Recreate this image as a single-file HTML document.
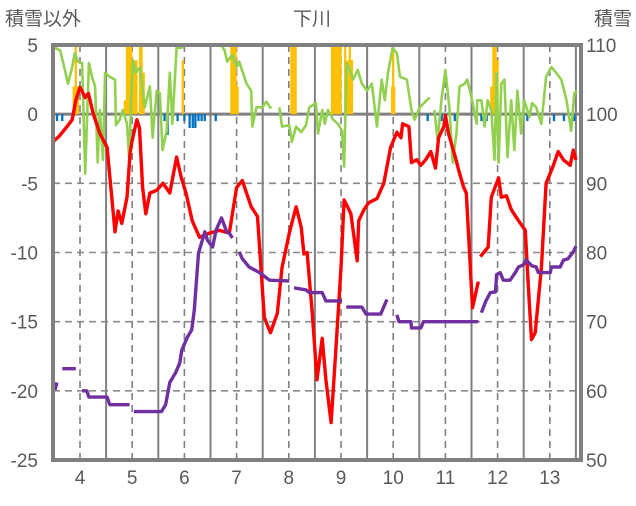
<!DOCTYPE html>
<html><head><meta charset="utf-8"><style>
html,body{margin:0;padding:0;background:#fff;}
svg text{font-family:"Liberation Sans","Noto Sans CJK JP",sans-serif;fill:#595959;}
</style></head><body>
<svg id="chart" width="636" height="501" viewBox="0 0 636 501" xmlns="http://www.w3.org/2000/svg">
<defs><clipPath id="plotclip"><rect x="53" y="45" width="528" height="415"/></clipPath></defs>
<text x="312" y="25" font-size="19" text-anchor="middle">下川</text>
<text x="5" y="25" font-size="19">積雪以外</text>
<text x="632" y="25" font-size="19" text-anchor="end">積雪</text>
<g id="grid"></g>
<g id="axes"></g>
<g clip-path="url(#plotclip)"><g id="marks"></g></g>
<rect x="53" y="45" width="528" height="415" fill="none" stroke="#808080" stroke-width="4"/>
</svg>
<script>
const leftTicks=[5,0,-5,-10,-15,-20,-25];
const rightTicks=[110,100,90,80,70,60,50];
const dayTicks=[4,5,6,7,8,9,10,11,12,13];
const redSeries=[[3.48,-2.0],[3.6,-1.6],[3.75,-0.9],[3.85,-0.4],[3.92,1.0],[4.0,1.95],[4.1,1.2],[4.16,1.5],[4.25,0.1],[4.38,-1.4],[4.52,-2.4],[4.67,-8.5],[4.73,-7.0],[4.8,-7.9],[4.9,-6.0],[4.96,-2.8],[5.0,-1.9],[5.09,-0.4],[5.14,-1.0],[5.2,-5.3],[5.26,-7.2],[5.34,-5.7],[5.47,-5.5],[5.59,-5.0],[5.72,-5.7],[5.85,-3.1],[5.94,-4.6],[6.03,-5.7],[6.15,-7.7],[6.29,-8.9],[6.48,-8.6],[6.67,-8.4],[6.86,-8.6],[7.0,-5.3],[7.11,-4.8],[7.28,-6.7],[7.4,-7.4],[7.53,-14.7],[7.65,-15.8],[7.78,-14.4],[7.87,-11.1],[8.01,-8.6],[8.14,-6.7],[8.24,-8.2],[8.29,-10.1],[8.35,-10.0],[8.45,-14.4],[8.54,-19.2],[8.64,-16.2],[8.71,-19.2],[8.81,-22.3],[8.9,-17.1],[9.0,-11.1],[9.06,-6.2],[9.19,-7.2],[9.31,-10.6],[9.34,-7.7],[9.44,-6.9],[9.53,-6.4],[9.69,-6.1],[9.82,-5.0],[9.95,-2.4],[10.07,-1.3],[10.15,-1.7],[10.18,-0.7],[10.3,-0.9],[10.35,-3.5],[10.45,-3.3],[10.53,-3.7],[10.62,-3.3],[10.72,-2.7],[10.81,-3.9],[10.87,-1.7],[10.97,-0.9],[11.0,-0.1],[11.06,-1.4],[11.19,-3.1],[11.25,-4.0],[11.35,-5.3],[11.4,-5.7],[11.52,-14.0],[11.63,-12.1],null,[11.67,-10.3],[11.82,-9.6],[11.88,-6.0],[12.02,-4.6],[12.07,-6.0],[12.17,-5.9],[12.26,-6.9],[12.4,-7.7],[12.53,-8.4],[12.59,-12.5],[12.65,-16.3],[12.72,-15.8],[12.84,-11.1],[12.93,-5.0],[13.06,-3.8],[13.16,-2.7],[13.26,-3.3],[13.39,-3.7],[13.45,-2.6],[13.5,-3.3]];
const purpleSeries=[[3.52,60.1],[3.56,61.2],null,[3.66,63.2],[3.92,63.2],null,[4.04,60.0],[4.13,60.0],[4.17,59.1],[4.52,59.1],[4.57,58.0],[4.95,58.0],null,[5.03,57.0],[5.56,57.0],[5.64,58.0],[5.72,61.2],[5.83,62.6],[5.91,64.0],[5.95,65.9],[6.06,67.8],[6.14,68.8],[6.19,71.7],[6.27,79.9],[6.39,83.0],[6.44,81.8],[6.54,80.8],[6.61,83.3],[6.71,85.0],[6.81,83.0],[6.86,82.8],[6.92,82.1],null,[7.05,80.1],[7.11,79.1],[7.24,77.9],[7.44,77.1],[7.63,76.0],[8.01,75.9],null,[8.1,74.9],[8.33,74.6],[8.39,74.2],[8.64,74.2],[8.71,73.0],[9.02,73.0],null,[9.1,72.1],[9.4,72.1],[9.48,71.1],[9.76,71.1],[9.88,73.2],null,[10.07,71.0],[10.11,70.0],[10.34,70.0],[10.35,69.1],[10.53,69.1],[10.58,70.0],[11.63,70.0],null,[11.69,71.3],[11.77,72.9],[11.86,74.2],[11.96,74.3],[11.98,76.8],[12.05,77.1],[12.11,76.0],[12.24,76.0],[12.34,77.1],[12.4,77.9],[12.49,78.2],[12.55,78.9],[12.65,78.1],[12.74,77.9],[12.78,77.1],[13.01,77.1],[13.03,77.9],[13.2,77.9],[13.26,78.9],[13.35,79.1],[13.45,80.1],[13.5,80.9]];
const greenSeries=[[3.52,4.8],[3.62,4.6],[3.71,3.2],[3.77,2.2],[3.85,3.4],[3.9,4.4],[3.96,3.8],[4.04,3.7],[4.1,-4.3],[4.13,-0.9],[4.17,3.7],[4.23,2.7],[4.29,2.0],[4.34,-3.5],[4.38,0.3],[4.44,-3.3],[4.48,3.0],[4.57,2.7],[4.67,2.5],[4.69,-0.8],[4.76,-0.4],[4.82,0.3],[4.9,-0.7],[4.94,-3.1],[5.01,3.9],[5.07,3.0],[5.15,3.4],[5.24,0.5],[5.34,2.0],[5.39,-1.7],[5.47,1.7],[5.53,1.5],[5.58,-2.6],[5.66,-1.2],[5.72,3.0],[5.77,-0.7],[5.85,4.8],[5.95,4.8],[6.04,5.5],[6.54,5.5],[6.67,5.2],[6.77,4.6],[6.82,3.8],[6.92,4.3],[7.0,3.4],[7.05,3.8],[7.19,2.2],[7.28,1.7],[7.3,-0.9],[7.38,0.5],[7.49,0.5],[7.57,0.9],[7.66,0.4],null,[7.82,0.5],[7.87,-0.9],[8.01,-0.8],[8.06,-2.0],[8.14,-0.9],[8.24,-1.3],[8.33,-0.8],[8.39,0.5],[8.52,0.8],[8.56,-1.4],[8.64,0.3],[8.69,-0.7],[8.75,0.3],[8.85,-0.4],[8.94,-0.7],[9.02,-1.2],[9.06,-3.8],[9.11,3.7],[9.17,3.2],[9.23,2.5],[9.32,3.2],[9.4,2.2],[9.5,1.7],[9.59,2.2],[9.69,-0.9],[9.78,2.5],[9.84,1.0],[9.9,3.0],[9.99,4.8],[10.07,4.4],[10.13,2.7],[10.26,2.5],[10.35,0.3],[10.41,-0.4],[10.51,0.5],[10.64,1.0],[10.7,1.2],null,[10.79,0.3],[10.85,-1.9],[10.93,1.2],[11.0,3.2],[11.08,0.3],[11.14,-3.5],[11.21,-1.4],[11.27,2.0],[11.37,2.2],[11.42,2.5],[11.5,1.2],[11.6,-0.7],[11.61,1.0],[11.69,1.0],[11.75,-0.9],[11.81,1.0],[11.88,0.3],[11.94,-3.3],[11.98,3.0],[12.02,-3.5],[12.07,2.2],[12.13,2.5],[12.19,-3.1],[12.26,1.0],[12.32,-2.6],[12.38,1.7],[12.45,-1.4],[12.51,1.0],[12.61,-0.2],[12.66,0.8],[12.74,0.5],[12.84,-0.7],[12.93,2.7],[13.03,3.4],[13.12,3.0],[13.22,2.5],[13.32,1.0],[13.41,-1.2],[13.47,1.5],[13.52,1.7]];
const orangeDays=[3.88,3.92,3.96,4.86,4.9,4.94,4.98,5.0,5.04,5.08,5.15,5.18,5.22,5.97,6.9,6.94,6.98,7.02,8.05,8.09,8.13,8.83,8.87,8.91,8.95,8.99,9.08,9.13,9.17,9.21,9.98,10.0,10.02,11.88,11.92,11.96,12.0];
const orangeVals=[2.0,6,2.0,1.0,6,6,6,3.9,3.9,3.9,6,6,3.0,3.9,6,6,6,2.0,6,6,6,6,6,6,6,6,6,3.9,6,3.9,2.0,6,2.0,2.0,6,6,3.9];
const blueDays=[3.56,3.66,5.62,5.68,5.87,6.0,6.1,6.16,6.21,6.27,6.33,6.39,6.6,10.66,10.93,11.18,11.69,11.79,12.57,13.08,13.27,13.47];
const blueVals=[-0.5,-0.5,-0.5,-1.5,-0.5,-0.5,-1.0,-1.0,-1.0,-0.5,-0.5,-0.5,-0.5,-0.5,-0.5,-0.5,-0.5,-0.5,-0.5,-0.5,-0.5,-0.5];

const NS='http://www.w3.org/2000/svg';
const X0=53,X1=581,Y0=45,Y1=460;
const xS=d=>80+(d-4)*52.2;
const yL=v=>Y0+(5-v)*(Y1-Y0)/30;
const yR=v=>Y0+(110-v)*(Y1-Y0)/60;
function mk(tag,attrs,parent){const e=document.createElementNS(NS,tag);for(const k in attrs)e.setAttribute(k,attrs[k]);parent.appendChild(e);return e;}
const grid=document.getElementById('grid'),axes=document.getElementById('axes'),marks=document.getElementById('marks');
leftTicks.forEach((t,i)=>{
  const y=yL(t);
  if(t<5&&t>-25&&t!==0){const l=mk('line',{x1:X0,x2:X1,y1:y,y2:y,stroke:'#8a8a8a','stroke-width':1.6,'stroke-dasharray':'7,5'},grid);
  }
  const tx=mk('text',{x:38,y:y+7,'font-size':19,'text-anchor':'end'},axes);tx.textContent=t;
  
});
rightTicks.forEach(t=>{
  const tx=mk('text',{x:586,y:yR(t)+7,'font-size':19},axes);tx.textContent=t;
  
});
dayTicks.forEach(d=>{
  const x=xS(d);
  const l=mk('line',{x1:x,x2:x,y1:Y0,y2:Y1,stroke:'#808080','stroke-width':1.6,'stroke-dasharray':'7,5'},grid);
  
  const xh=xS(d+0.5);
  if(xh<X1-3){const s=mk('line',{x1:xh,x2:xh,y1:Y0,y2:Y1,stroke:'#808080','stroke-width':2},grid);
  }
  const tx=mk('text',{x:x,y:484,'font-size':19,'text-anchor':'middle'},axes);tx.textContent=d;
  
});
{const s=mk('line',{x1:xS(3.5),x2:xS(3.5),y1:Y0,y2:Y1,stroke:'#808080','stroke-width':2},grid);
}
const z=mk('line',{x1:X0,x2:X1,y1:yL(0),y2:yL(0),stroke:'#808080','stroke-width':3},grid);

const bw=2.3;
orangeDays.forEach((d,i)=>{const v=orangeVals[i];
  const r=mk('rect',{x:xS(d)-bw/2,y:yL(v),width:bw,height:yL(0)-yL(v),fill:'#ffc000'},marks);
  });
blueDays.forEach((d,i)=>{const v=blueVals[i];
  const r=mk('rect',{x:xS(d)-bw/2,y:yL(0),width:bw,height:yL(v)-yL(0),fill:'#0070c0'},marks);
  });
function path(data,yf){let d='',pen=false;data.forEach(p=>{if(!p){pen=false;return;}d+=(pen?'L':'M')+xS(p[0]).toFixed(1)+','+yf(p[1]).toFixed(1);pen=true;});return d;}
const g=mk('path',{d:path(greenSeries,yL),fill:'none',stroke:'#92d050','stroke-width':2.6,'stroke-linejoin':'round'},marks);

const r=mk('path',{d:path(redSeries,yL),fill:'none',stroke:'#ff0000','stroke-width':3.4,'stroke-linejoin':'round'},marks);

const p=mk('path',{d:path(purpleSeries,yR),fill:'none',stroke:'#7030a0','stroke-width':3.4,'stroke-linejoin':'round'},marks);

</script>
</body></html>
